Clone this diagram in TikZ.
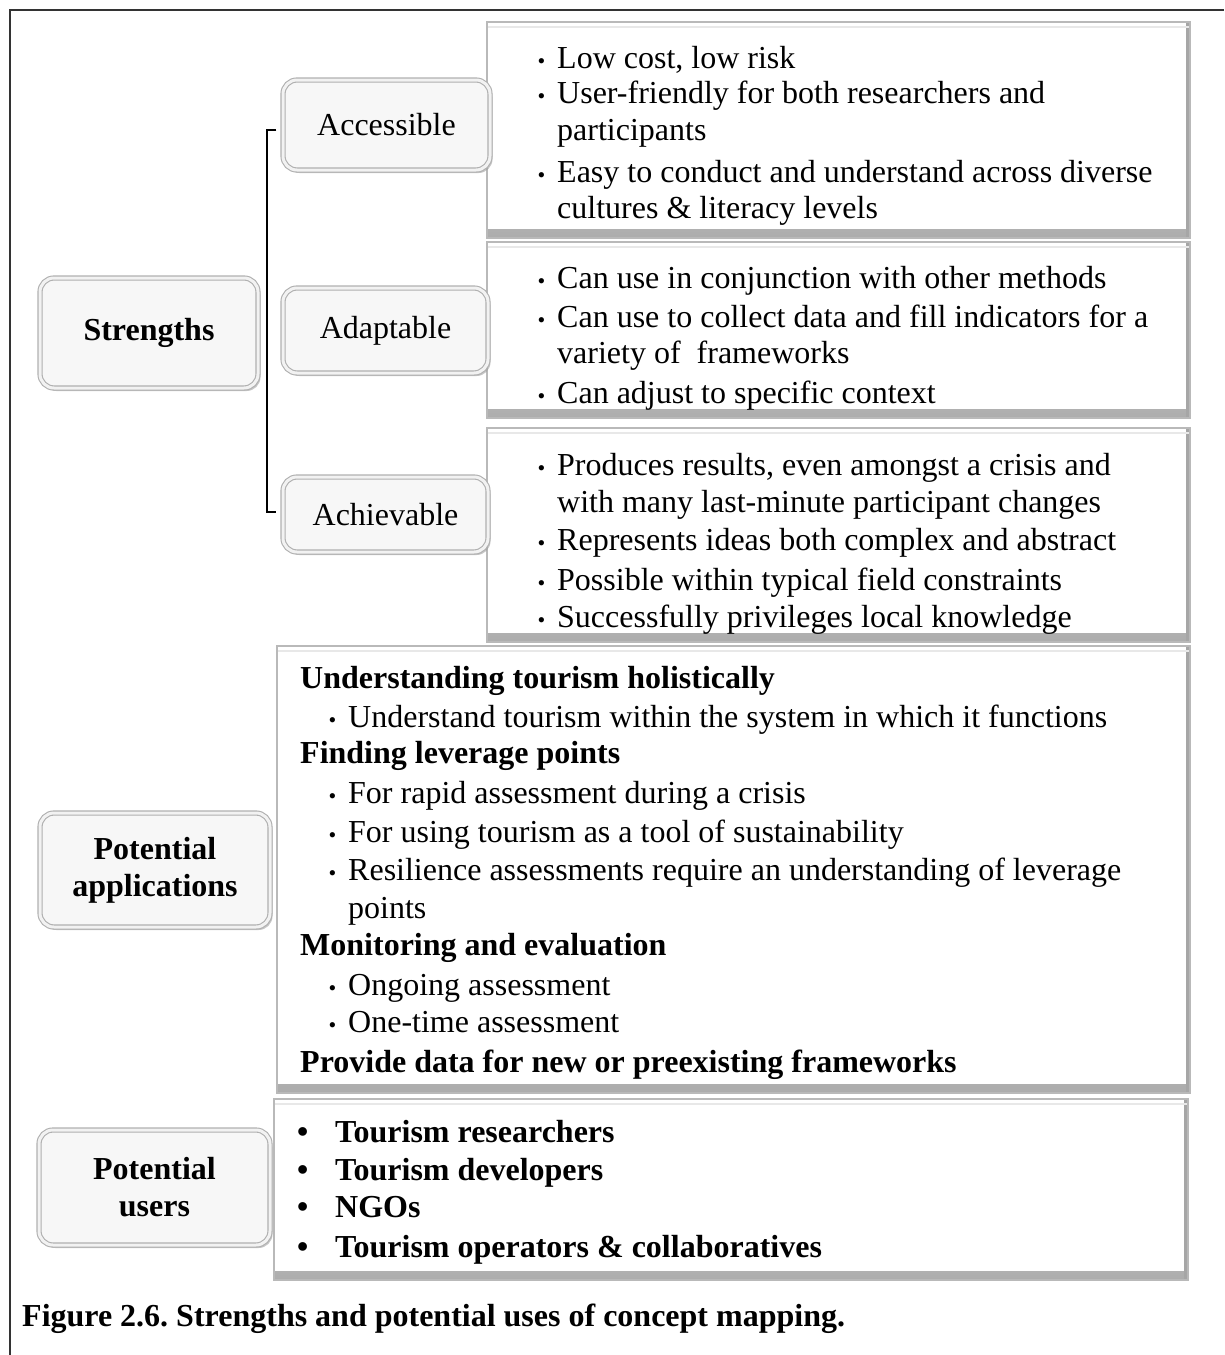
\documentclass[tikz,border=0pt]{standalone}
\usepackage{fontspec}
\setmainfont{Liberation Serif}
\usetikzlibrary{calc,shadows}
\frenchspacing

% small bullet hung to the left of an item line
\newcommand{\sbul}{\llap{{\fontsize{22}{22}\selectfont\textbullet}\hspace{12pt}}}
\newcommand{\bigbul}{\textbullet}

\tikzset{
  txt/.style={anchor=base west, inner sep=0pt, font=\fontsize{32}{37}\selectfont},
  btxt/.style={anchor=base west, inner sep=0pt, font=\fontsize{32}{37}\selectfont\bfseries},
  rbox/.style={rectangle, rounded corners=14pt, fill=gray!6, draw=gray!62,
    line width=1.1pt, double=gray!10, double distance=3pt, inner sep=0pt,
    align=center, font=\fontsize{32}{37}\selectfont,
    drop shadow={shadow xshift=2.5pt, shadow yshift=-3pt, fill=gray!75, opacity=0.6}},
  panel/.style={rectangle, fill=white, draw=gray!55, line width=1.5pt, inner sep=0pt,
    path picture={
      \shade[top color=white, bottom color=gray!65]
        ([yshift=9pt]path picture bounding box.south west) rectangle
        (path picture bounding box.south east);
      \fill[gray!70]
        ([xshift=-4pt]path picture bounding box.north east) rectangle
        (path picture bounding box.south east);
      \draw[gray!18, line width=1.5pt]
        ([yshift=-5pt]path picture bounding box.north west) --
        ([yshift=-5pt]path picture bounding box.north east);
    }},
  bracket/.style={line width=2pt, black}
}

\begin{document}
\begin{tikzpicture}[x=1pt, y=-1pt]
\useasboundingbox (0,0) rectangle (1224,1355);

% outer frame (top and left edges)
\draw[gray!40!black, line width=1.5pt] (10,1355) -- (10,10) -- (1224,10);

% content panels
\node[panel, minimum width=703pt, minimum height=216pt] (p1) at (838.5,130) {};
\node[panel, minimum width=703pt, minimum height=176pt] (p2) at (838.5,330) {};
\node[panel, minimum width=703pt, minimum height=214pt] (p3) at (838.5,535) {};
\node[panel, minimum width=913pt, minimum height=447pt] (p4) at (733.5,869.5) {};
\node[panel, minimum width=914pt, minimum height=181pt] (p5) at (731,1189.5) {};

% category labels
\node[rbox, minimum width=218pt, minimum height=110pt, font=\fontsize{32}{37}\selectfont\bfseries] (str) at (149,333) {Strengths};
\node[rbox, minimum width=207pt, minimum height=90pt] (acc) at (386.5,125) {Accessible};
\node[rbox, minimum width=205pt, minimum height=85pt] (ada) at (385.5,330.5) {Adaptable};
\node[rbox, minimum width=205pt, minimum height=75pt] (ach) at (385.5,514.5) {Achievable};
\node[rbox, minimum width=230pt, minimum height=114pt, font=\fontsize{32}{37}\selectfont\bfseries] (app) at (155,870) {Potential\\applications};
\node[rbox, minimum width=231pt, minimum height=115pt, font=\fontsize{32}{37}\selectfont\bfseries] (usr) at (154.5,1187.5) {Potential\\users};

% bracket grouping the three strengths
\draw[bracket] ([xshift=-6pt,yshift=-5pt]acc.west) -- ++(-9,0) |- ([xshift=-6pt,yshift=3pt]ach.west);

% Accessible
\node[txt] (a1) at (557,68)  {\sbul Low cost, low risk};
\node[txt] (a2) at (557,103) {\sbul User-friendly for both researchers and};
\node[txt] (a3) at (557,140) {participants};
\node[txt] (a4) at (557,182) {\sbul Easy to conduct and understand across diverse};
\node[txt] (a5) at (557,218) {cultures \& literacy levels};

% Adaptable
\node[txt] (b1) at (557,288) {\sbul Can use in conjunction with other methods};
\node[txt] (b2) at (557,327) {\sbul Can use to collect data and fill indicators for a};
\node[txt] (b3) at (557,363) {variety of\ \ frameworks};
\node[txt] (b4) at (557,403) {\sbul Can adjust to specific context};

% Achievable
\node[txt] (c1) at (557,475) {\sbul Produces results, even amongst a crisis and};
\node[txt] (c2) at (557,512) {with many last-minute participant changes};
\node[txt] (c3) at (557,550) {\sbul Represents ideas both complex and abstract};
\node[txt] (c4) at (557,590) {\sbul Possible within typical field constraints};
\node[txt] (c5) at (557,627) {\sbul Successfully privileges local knowledge};

% Potential applications
\node[btxt] (d1)  at (300,688)  {Understanding tourism holistically};
\node[txt]  (d2)  at (348,727)  {\sbul Understand tourism within the system in which it functions};
\node[btxt] (d3)  at (300,763)  {Finding leverage points};
\node[txt]  (d4)  at (348,803)  {\sbul For rapid assessment during a crisis};
\node[txt]  (d5)  at (348,842)  {\sbul For using tourism as a tool of sustainability};
\node[txt]  (d6)  at (348,880)  {\sbul Resilience assessments require an understanding of leverage};
\node[txt]  (d7)  at (348,918)  {points};
\node[btxt] (d8)  at (300,955)  {Monitoring and evaluation};
\node[txt]  (d9)  at (348,995)  {\sbul Ongoing assessment};
\node[txt]  (d10) at (348,1032) {\sbul One-time assessment};
\node[btxt] (d11) at (300,1072) {Provide data for new or preexisting frameworks};

% Potential users
\node[btxt] (e1b) at (297,1142) {\bigbul};
\node[btxt] (e1)  at (335,1142) {Tourism researchers};
\node[btxt] (e2b) at (297,1180) {\bigbul};
\node[btxt] (e2)  at (335,1180) {Tourism developers};
\node[btxt] (e3b) at (297,1217) {\bigbul};
\node[btxt] (e3)  at (335,1217) {NGOs};
\node[btxt] (e4b) at (297,1257) {\bigbul};
\node[btxt] (e4)  at (335,1257) {Tourism operators \& collaboratives};

% caption
\node[btxt] (cap) at (22,1326) {Figure 2.6. Strengths and potential uses of concept mapping.};
\end{tikzpicture}
\end{document}
